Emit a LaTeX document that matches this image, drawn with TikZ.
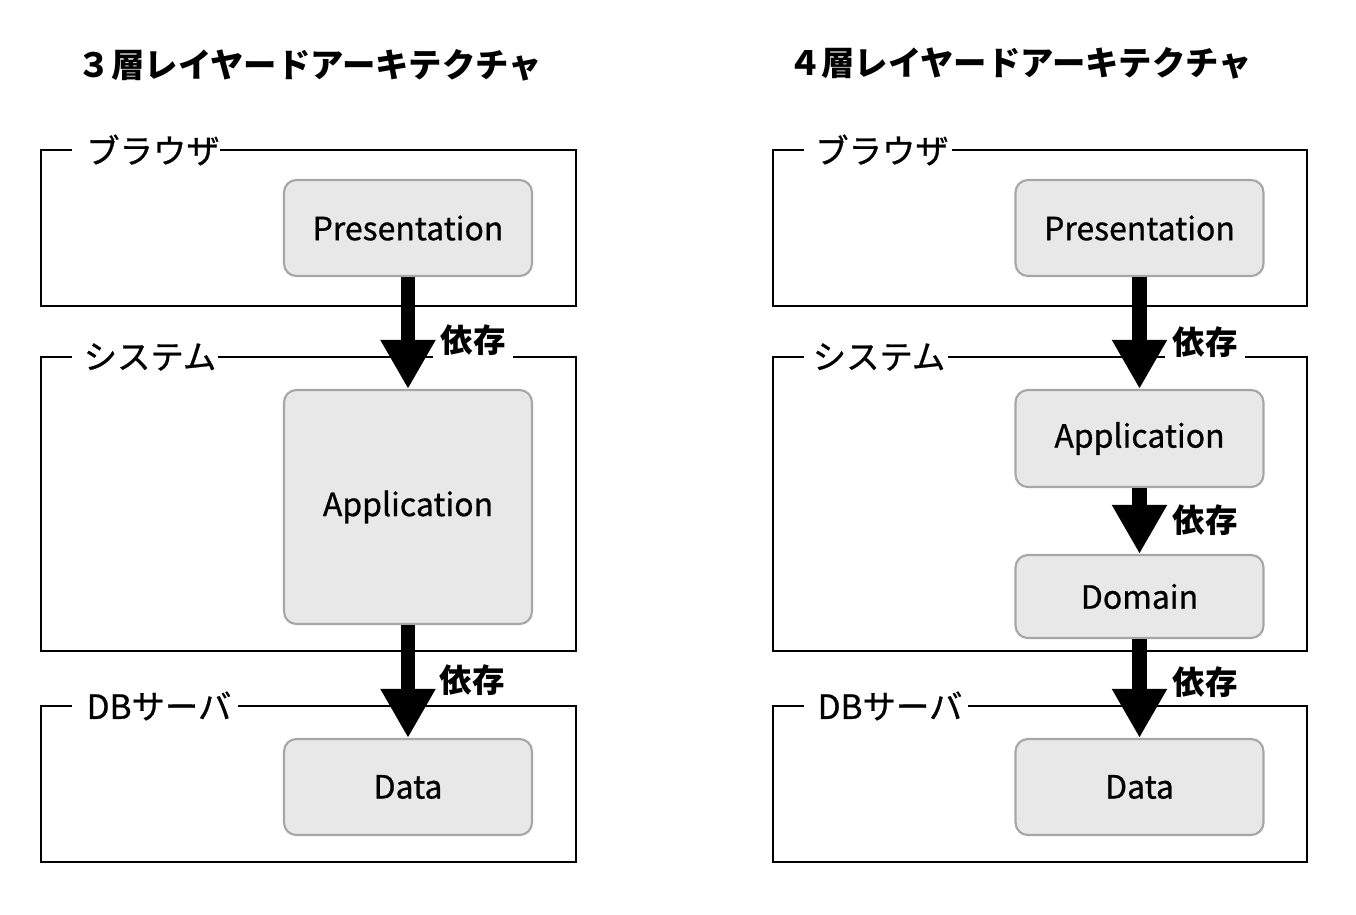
\documentclass[tikz,border=0pt]{standalone}
\usepackage{fontspec}
\setmainfont{Noto Sans CJK JP}
\newfontfamily\medfont[FakeBold=0.8]{Noto Sans CJK JP}
\usetikzlibrary{arrows.meta,positioning}

\tikzset{
  frame/.style={line width=1.2pt},
  framelabel/.style={inner sep=0pt, font=\medfont\fontsize{19}{21}\selectfont},
  layer/.style={draw=black!35, fill=black!9, line width=1.2pt, rounded corners=7pt,
    minimum width=4.96cm, minimum height=1.92cm, font=\medfont\fontsize{18.2}{21}\selectfont},
  dep/.style={line width=8pt, -{Triangle[width=29.5pt,length=28pt]}},
  deplabel/.style={fill=white, inner xsep=4pt, inner ysep=3pt,
    font=\bfseries\fontsize{18.5}{21}\selectfont},
  title/.style={font=\bfseries\fontsize{19}{21}\selectfont}
}

\begin{document}
\begin{tikzpicture}[x=0.02cm, y=-0.02cm]
    \useasboundingbox (0,0) rectangle (1356,914);

    % Titles
    \node[title] (titleL) at (310,65) {３層レイヤードアーキテクチャ};
    \node[title] (titleR) at (1020,63) {４層レイヤードアーキテクチャ};

    % Left: frames
    \draw[frame] (72,150) -- (41,150) -- (41,306) -- (576,306) -- (576,150) -- (220,150);
    \node[framelabel] (browserL) at (153,150) {ブラウザ};
    \draw[frame] (72,357) -- (41,357) -- (41,651) -- (576,651) -- (576,357) -- (218,357);
    \node[framelabel] (systemL) at (150,357) {システム};
    \draw[frame] (72,706) -- (41,706) -- (41,862) -- (576,862) -- (576,706) -- (238,706);
    \node[framelabel] (dbL) at (159,706) {DBサーバ};

    % Left: layers
    \node[layer] (presL) at (408,228) {Presentation};
    \node[layer, minimum height=4.68cm] (appL) at (408,507) {Application};
    \node[layer] (dataL) at (408,787) {Data};

    % Left: dependencies
    \node[deplabel] (depL1) at (473,340) {依存};
    \node[deplabel] (depL2) at (472,680) {依存};
    \draw[dep] (presL.south) -- (appL.north);
    \draw[dep] (appL.south) -- (dataL.north);

    % Right: frames
    \draw[frame] (804,150) -- (773,150) -- (773,306) -- (1307,306) -- (1307,150) -- (952,150);
    \node[framelabel] (browserR) at (882,150) {ブラウザ};
    \draw[frame] (804,357) -- (773,357) -- (773,651) -- (1307,651) -- (1307,357) -- (948,357);
    \node[framelabel] (systemR) at (879,357) {システム};
    \draw[frame] (804,706) -- (773,706) -- (773,862) -- (1307,862) -- (1307,706) -- (968,706);
    \node[framelabel] (dbR) at (890,706) {DBサーバ};

    % Right: layers
    \node[layer] (presR) at (1139.5,228) {Presentation};
    \node[layer, minimum height=1.94cm] (appR) at (1139.5,438.5) {Application};
    \node[layer, minimum height=1.66cm] (domR) at (1139.5,596.5) {Domain};
    \node[layer] (dataR) at (1139.5,787) {Data};

    % Right: dependencies
    \node[deplabel] (depR1) at (1205,342) {依存};
    \node[deplabel] (depR2) at (1205,520) {依存};
    \node[deplabel] (depR3) at (1205,682) {依存};
    \draw[dep] (presR.south) -- (appR.north);
    \draw[dep] (appR.south) -- (domR.north);
    \draw[dep] (domR.south) -- (dataR.north);
\end{tikzpicture}
\end{document}
